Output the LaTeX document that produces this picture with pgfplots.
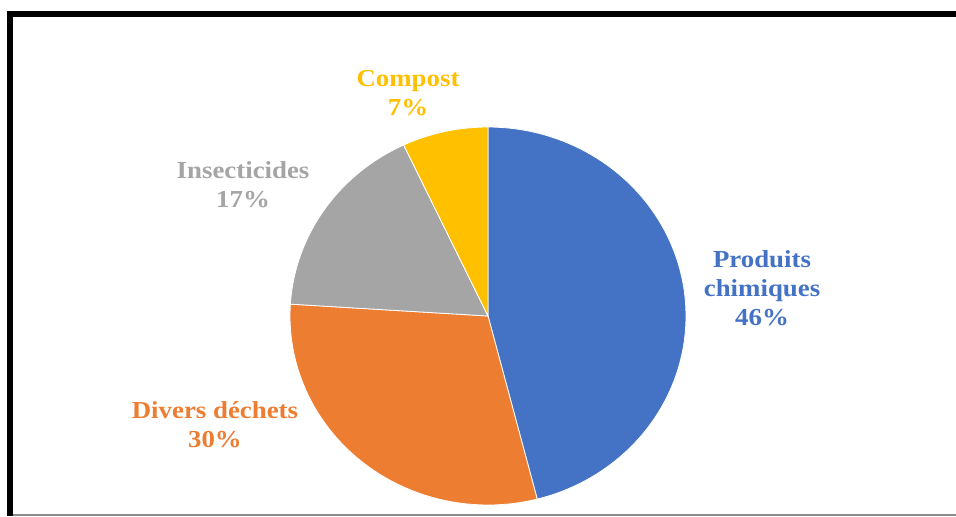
\documentclass[border=0pt]{standalone}
\usepackage{pgfplots}
\pgfplotsset{compat=1.18}
\usepackage{fontspec}
\setmainfont{Liberation Serif}
\definecolor{cBlue}{HTML}{4472C4}
\definecolor{cOrange}{HTML}{ED7D31}
\definecolor{cGray}{HTML}{A5A5A5}
\definecolor{cYellow}{HTML}{FFC000}
\definecolor{cFrame}{HTML}{8C8C8C}
\tikzset{lbl/.style={align=center, xscale=1.1, font=\bfseries\fontsize{12.2}{14.4}\selectfont}}
\begin{document}
\begin{tikzpicture}
\path[use as bounding box] (0,0) rectangle (478pt,258pt);
\fill[white] (0,0) rectangle (478pt,258pt);
% frame
\fill[black] (3.5pt,0) rectangle (6.5pt,252.5pt);
\fill[black] (3.5pt,249.5pt) rectangle (478pt,252.5pt);
\fill[cFrame] (6.5pt,0) rectangle (478pt,1pt);
\begin{axis}[
  hide axis, clip=false, scale only axis,
  width=198pt, height=189pt,
  xmin=-1, xmax=1, ymin=-1, ymax=1,
  at={(244pt,100pt)}, anchor=center,
]
% values: Produits chimiques 46, Divers dechets 30, Insecticides 17, Compost 7 (clockwise from top)
\addplot[fill=cBlue, draw=white, line width=0.4pt, data cs=polar, domain={90-3.6*46}:{90}, samples=90, variable=\t] ({\t},{1}) -- (axis cs:0,0) -- cycle;
\addplot[fill=cOrange, draw=white, line width=0.4pt, data cs=polar, domain={90-3.6*(46+30)}:{90-3.6*46}, samples=70, variable=\t] ({\t},{1}) -- (axis cs:0,0) -- cycle;
\addplot[fill=cGray, draw=white, line width=0.4pt, data cs=polar, domain={90-3.6*(46+30+17)}:{90-3.6*(46+30)}, samples=50, variable=\t] ({\t},{1}) -- (axis cs:0,0) -- cycle;
\addplot[fill=cYellow, draw=white, line width=0.4pt, data cs=polar, domain={90-3.6*100}:{90-3.6*(46+30+17)}, samples=30, variable=\t] ({\t},{1}) -- (axis cs:0,0) -- cycle;
\node[lbl, text=cBlue] at (axis cs:1.384,0.148) {Produits\\chimiques\\46\%};
\node[lbl, text=cOrange] at (axis cs:-1.379,-0.577) {Divers déchets\\30\%};
\node[lbl, text=cGray] at (axis cs:-1.237,0.693) {Insecticides\\17\%};
\node[lbl, text=cYellow] at (axis cs:-0.404,1.18) {Compost\\7\%};
\end{axis}
\end{tikzpicture}
\end{document}
